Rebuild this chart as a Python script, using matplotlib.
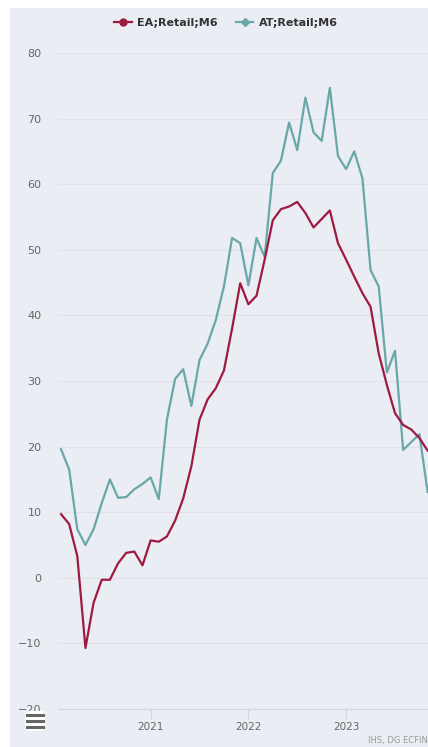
import numpy as np
import pandas as pd
import matplotlib.pyplot as plt
from matplotlib.lines import Line2D
from matplotlib.patches import Rectangle, FancyBboxPatch

# monthly data, Feb 2020 - Nov 2023
months = pd.date_range('2020-02-01', periods=46, freq='MS')
ea = [9.7, 8.2, 3.3, -10.7, -3.8, -0.3, -0.3, 2.2, 3.8, 4.0, 1.9, 5.7,
      5.5, 6.3, 8.7, 12.1, 17.0, 24.1, 27.2, 28.9, 31.6, 38.0, 44.9, 41.7,
      43.0, 48.5, 54.5, 56.2, 56.6, 57.3, 55.6, 53.4, 54.7, 56.0, 51.0, 48.5,
      45.9, 43.4, 41.3, 34.2, 29.4, 25.1, 23.3, 22.6, 21.3, 19.4]
at = [19.6, 16.5, 7.4, 5.0, 7.4, 11.4, 15.0, 12.2, 12.3, 13.5, 14.3, 15.3,
      12.0, 24.1, 30.3, 31.8, 26.2, 33.2, 35.7, 39.3, 44.4, 51.8, 51.0, 44.6,
      51.8, 48.9, 61.7, 63.6, 69.4, 65.2, 73.2, 67.9, 66.6, 74.7, 64.3, 62.3,
      65.0, 60.9, 46.9, 44.4, 31.3, 34.6, 19.5, 20.7, 21.9, 13.1]
names = ['EA;Retail;M6', 'AT;Retail;M6']
colors = ['#9e1a41', '#6aa7a8']
yticks = [-20, -10, 0, 10, 20, 30, 40, 50, 60, 70, 80]

W, H = 428, 747
fig = plt.figure(figsize=(W / 100, H / 100), dpi=100, facecolor='white')
bg = '#eaedf3'
fig.patches.append(Rectangle((10 / W, 0), 1, 1 - 8 / H, transform=fig.transFigure,
                             facecolor=bg, edgecolor='none', zorder=-5))

ax = fig.add_axes([58 / W, 1 - 709 / H, (W - 58) / W, (709 - 53) / H])
ax.set_facecolor(bg)
x = np.arange(len(months))
ax.plot(x, ea, color=colors[0], lw=1.6, zorder=3)
ax.plot(x, at, color=colors[1], lw=1.6, zorder=2)

ax.set_ylim(-20, 80)
ax.set_xlim(-0.37, 45.05)
ax.set_yticks(yticks)
ax.set_yticklabels([str(v).replace('-', '\u2212') for v in yticks])
ax.grid(axis='y', color='#dfe1e5', lw=0.8)
ax.set_axisbelow(True)
jan = [i for i, m in enumerate(months) if m.month == 1]
ax.set_xticks(jan)
ax.set_xticklabels([str(months[i].year) for i in jan])
for s in ['top', 'right', 'left']:
    ax.spines[s].set_visible(False)
ax.spines['bottom'].set_color('#ccd6eb')
ax.spines['bottom'].set_linewidth(0.8)
ax.tick_params(axis='y', length=0, pad=12, labelsize=8, labelcolor='#666666')
ax.tick_params(axis='x', length=7, width=0.8, color='#ccd6eb', pad=2,
               labelsize=7.5, labelcolor='#666666')

handles = [Line2D([], [], color=colors[0], lw=1.6, marker='o', markersize=5),
           Line2D([], [], color=colors[1], lw=1.6, marker='D', markersize=4)]
fig.legend(handles, names, loc='center', bbox_to_anchor=(226 / W, 1 - 23 / H),
           ncol=2, frameon=False, handlelength=1.6, handletextpad=0.5,
           columnspacing=1.6, prop={'weight': 'bold', 'size': 8},
           labelcolor='#333333')

# menu button
fig.patches.append(FancyBboxPatch((25 / W, 1 - 731 / H), 20 / W, 20 / H,
                                  boxstyle='round,pad=0,rounding_size=0.008',
                                  transform=fig.transFigure, facecolor='white',
                                  edgecolor='none', zorder=5))
for yy in [715, 721, 727]:
    fig.add_artist(Line2D([27 / W, 43 / W], [1 - yy / H] * 2, color='#666666',
                          lw=2.2, transform=fig.transFigure, zorder=6))

fig.text(368 / W, 1 - 741 / H, 'IHS, DG ECFIN', fontsize=6, color='#999999',
         va='center', ha='left')

fig.savefig('out.png', dpi=100, facecolor='white')
